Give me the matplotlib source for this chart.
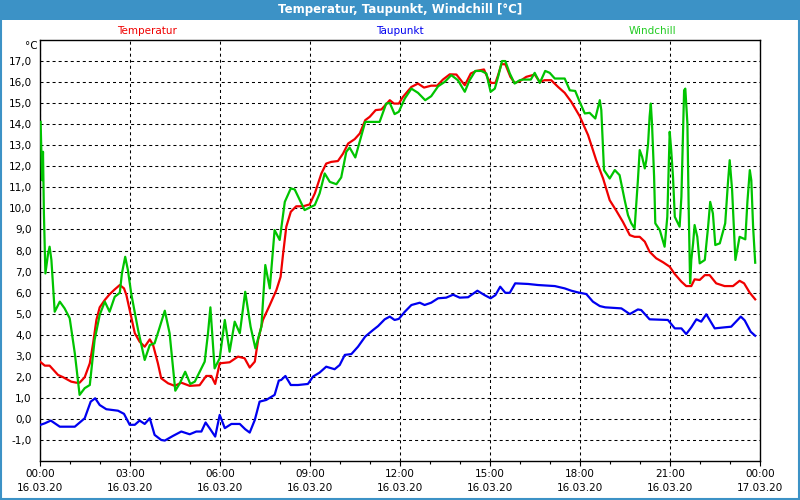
import numpy as np
import matplotlib.pyplot as plt
from matplotlib.patches import Rectangle
from matplotlib.ticker import MultipleLocator, FixedLocator

# hours since 16.03.20 00:00
t_temp = [0.0, 0.16, 0.32, 0.6, 0.77, 1.04, 1.21, 1.32, 1.49, 1.66, 1.77, 1.88, 1.99,
          2.16, 2.32, 2.49, 2.66, 2.8, 2.88, 2.99, 3.16, 3.32, 3.49, 3.66, 3.77, 3.93,
          4.04, 4.27, 4.49, 4.71, 4.99, 5.32, 5.54, 5.71, 5.84, 5.99, 6.32, 6.6, 6.82,
          6.99, 7.16, 7.27, 7.43, 7.66, 7.88, 8.02, 8.1, 8.21, 8.36, 8.54, 8.77, 8.99,
          9.16, 9.38, 9.54, 9.71, 9.93, 10.1, 10.27, 10.49, 10.66, 10.84, 10.99, 11.19,
          11.38, 11.66, 11.8, 11.96, 12.1, 12.38, 12.6, 12.8, 13.04, 13.24, 13.43, 13.66,
          13.88, 14.16, 14.36, 14.54, 14.8, 14.93, 15.04, 15.18, 15.27, 15.38, 15.51,
          15.68, 15.82, 16.0, 16.21, 16.49, 16.66, 16.82, 17.04, 17.27, 17.49, 17.71,
          17.99, 18.27, 18.54, 18.77, 18.99, 19.21, 19.43, 19.66, 19.82, 19.99, 20.16,
          20.32, 20.54, 20.77, 20.99, 21.16, 21.38, 21.54, 21.71, 21.82, 21.99, 22.16,
          22.32, 22.54, 22.82, 23.1, 23.32, 23.47, 23.66, 23.84]
temperatur = [2.72, 2.53, 2.53, 2.09, 1.98, 1.77, 1.72, 1.72, 1.98, 2.64, 3.59, 4.7, 5.3,
              5.65, 5.92, 6.15, 6.36, 6.2, 5.88, 5.17, 4.07, 3.67, 3.43, 3.78, 3.51, 2.64,
              1.93, 1.69, 1.57, 1.72, 1.57, 1.6, 2.04, 2.04, 1.66, 2.64, 2.69, 2.96, 2.88,
              2.44, 2.72, 3.75, 4.7, 5.41, 6.12, 6.75, 7.8, 9.13, 9.84, 10.1, 10.1, 10.19,
              10.71, 11.66, 12.13, 12.21, 12.25, 12.6, 13.08, 13.29, 13.56, 14.19, 14.35, 14.67,
              14.7, 15.14, 14.98, 14.98, 15.3, 15.77, 15.93, 15.74, 15.83, 15.83, 16.12, 16.37,
              16.36, 15.85, 16.41, 16.53, 16.6, 16.17, 15.96, 15.96, 16.33, 16.85, 16.85,
              16.25, 15.96, 16.05, 16.25, 16.36, 16.01, 16.09, 16.09, 15.77, 15.49, 15.06,
              14.38, 13.48, 12.29, 11.42, 10.39, 9.89, 9.36, 8.73, 8.65, 8.65, 8.42,
              7.94, 7.63, 7.44, 7.23, 6.88, 6.52, 6.31, 6.31, 6.63, 6.6, 6.83,
              6.83, 6.44, 6.31, 6.31, 6.56, 6.44, 5.99, 5.68]

t_tau = [0.02, 0.16, 0.36, 0.66, 1.16, 1.49, 1.69, 1.84, 1.99, 2.21, 2.6, 2.8, 2.99, 3.16,
         3.32, 3.49, 3.66, 3.82, 4.04, 4.16, 4.43, 4.71, 4.99, 5.21, 5.38, 5.52, 5.69, 5.84,
         5.99, 6.16, 6.38, 6.66, 6.84, 6.99, 7.16, 7.32, 7.54, 7.82, 7.96, 8.04, 8.18, 8.36,
         8.6, 8.93, 9.1, 9.32, 9.54, 9.82, 9.99, 10.16, 10.38, 10.6, 10.84, 11.1, 11.27,
         11.49, 11.66, 11.82, 11.96, 12.16, 12.38, 12.66, 12.82, 13.04, 13.27, 13.54, 13.77,
         13.99, 14.27, 14.58, 14.82, 15.02, 15.18, 15.34, 15.51, 15.66, 15.84, 16.27, 16.6,
         17.16, 17.49, 17.71, 17.93, 18.21, 18.43, 18.66, 18.84, 19.38, 19.66, 19.93, 20.04,
         20.32, 20.93, 21.16, 21.38, 21.54, 21.71, 21.88, 22.04, 22.21, 22.49, 22.82, 23.04,
         23.36, 23.49, 23.69, 23.84]
taupunkt = [-0.28, -0.21, -0.08, -0.37, -0.37, 0.03, 0.82, 0.98, 0.66, 0.46, 0.39, 0.24, -0.28, -0.28,
            -0.08, -0.24, 0.03, -0.76, -1.0, -1.03, -0.81, -0.6, -0.73, -0.6, -0.6, -0.17, -0.52, -0.84,
            0.19, -0.44, -0.24, -0.24, -0.49, -0.65, -0.05, 0.82, 0.9, 1.14, 1.82, 1.85, 2.04, 1.61,
            1.61, 1.66, 2.01, 2.2, 2.48, 2.36, 2.56, 3.04, 3.08, 3.43, 3.91, 4.22, 4.41,
            4.73, 4.86, 4.7, 4.75, 5.09, 5.41, 5.52, 5.41, 5.52, 5.73, 5.76, 5.9,
            5.76, 5.78, 6.09, 5.88, 5.73, 5.88, 6.28, 5.99, 5.99, 6.44, 6.41, 6.36,
            6.31, 6.2, 6.09, 6.01, 5.93, 5.57, 5.36, 5.3, 5.25, 4.98, 5.2, 5.17,
            4.73, 4.7, 4.3, 4.3, 4.03, 4.35, 4.73, 4.62, 4.97, 4.3, 4.35, 4.38,
            4.86, 4.68, 4.14, 3.95]

t_wind = [0.02, 0.07, 0.1, 0.13, 0.18, 0.27, 0.32, 0.38, 0.49, 0.66, 0.82, 0.99, 1.16, 1.32,
          1.49, 1.66, 1.82, 1.99, 2.16, 2.32, 2.49, 2.66, 2.73, 2.84, 2.93, 3.04, 3.27, 3.49,
          3.66, 3.82, 3.96, 4.16, 4.32, 4.51, 4.66, 4.84, 5.01, 5.16, 5.49, 5.6, 5.68, 5.82,
          5.99, 6.16, 6.32, 6.49, 6.66, 6.84, 7.02, 7.18, 7.38, 7.51, 7.66, 7.82, 7.99, 8.16,
          8.36, 8.49, 8.82, 9.16, 9.32, 9.49, 9.66, 9.88, 10.04, 10.21, 10.32, 10.51, 10.84,
          11.32, 11.54, 11.66, 11.82, 11.96, 12.16, 12.38, 12.6, 12.84, 13.04, 13.27, 13.49,
          13.71, 13.93, 14.16, 14.32, 14.51, 14.71, 14.88, 15.02, 15.16, 15.27, 15.4, 15.51,
          15.66, 15.82, 15.99, 16.1, 16.36, 16.49, 16.66, 16.84, 16.99, 17.16, 17.49, 17.66,
          17.84, 17.99, 18.16, 18.32, 18.51, 18.66, 18.71, 18.8, 18.99, 19.16, 19.32, 19.49,
          19.6, 19.71, 19.82, 19.93, 19.99, 20.07, 20.16, 20.21, 20.27, 20.32, 20.36, 20.4,
          20.47, 20.51, 20.66, 20.82, 20.91, 20.99, 21.04, 21.1, 21.16, 21.32, 21.38, 21.47,
          21.51, 21.58, 21.62, 21.67, 21.71, 21.77, 21.82, 21.91, 21.99, 22.16, 22.27, 22.34,
          22.43, 22.51, 22.66, 22.84, 22.93, 22.99, 23.07, 23.18, 23.32, 23.51, 23.58, 23.66,
          23.71, 23.77, 23.84]
windchill = [14.11, 11.34, 12.69, 9.76, 6.91, 7.86, 8.18, 7.55, 5.09, 5.57, 5.25, 4.78, 3.12, 1.14,
             1.46, 1.61, 3.75, 4.94, 5.57, 5.09, 5.8, 5.99, 6.91, 7.7, 7.07, 5.96, 4.22, 2.8,
             3.51, 3.59, 4.22, 5.14, 4.07, 1.34, 1.69, 2.24, 1.66, 1.77, 2.72, 4.07, 5.3, 2.4,
             2.88, 4.7, 3.19, 4.62, 4.07, 6.04, 4.38, 3.35, 4.38, 7.31, 6.2, 8.97, 8.5, 10.31,
             10.95, 10.9, 9.92, 10.16, 10.71, 11.66, 11.26, 11.15, 11.47, 12.69, 12.89, 12.42, 14.11,
             14.11, 14.98, 15.01, 14.48, 14.59, 15.22, 15.69, 15.49, 15.14, 15.33, 15.8, 16.01,
             16.33, 16.09, 15.54, 16.09, 16.53, 16.53, 16.41, 15.54, 15.69, 16.25, 17.0, 17.0,
             16.41, 15.93, 16.09, 16.12, 16.12, 16.44, 15.96, 16.53, 16.44, 16.17, 16.17, 15.61,
             15.58, 15.06, 14.51, 14.54, 14.27, 15.14, 14.67, 11.82, 11.42, 11.82, 11.58, 10.39,
             9.68, 9.29, 9.05, 11.34, 12.77, 12.45, 11.9, 12.29, 13.08, 14.35, 14.98, 14.03,
             11.5, 9.29, 8.97, 8.18, 9.6, 13.64, 12.77, 11.5, 9.6, 9.13, 10.55, 15.61,
             15.69, 14.03, 10.24, 6.44, 7.55, 8.34, 9.21, 8.65, 7.39, 7.55, 9.13, 10.31,
             9.76, 8.26, 8.34, 9.29, 11.19, 12.29, 10.87, 7.55, 8.65, 8.53, 10.31, 11.82,
             11.34, 9.13, 7.42]

xtick_labels = ['00:00\n16.03.20', '03:00\n16.03.20', '06:00\n16.03.20', '09:00\n16.03.20',
                '12:00\n16.03.20', '15:00\n16.03.20', '18:00\n16.03.20', '21:00\n16.03.20',
                '00:00\n17.03.20']

frame_blue = '#3c92c6'
red = '#f00000'
blue = '#0000f0'
green = '#00c400'

plt.rcParams['font.family'] = ['DejaVu Sans']
fig = plt.figure(figsize=(8, 5), dpi=100, facecolor='white')
ax = fig.add_axes([0.05, 0.078, 0.90, 0.842])

ax.plot(t_temp, temperatur, color=red, lw=1.6, zorder=3)
ax.plot(t_tau, taupunkt, color=blue, lw=1.6, zorder=3)
ax.plot(t_wind, windchill, color=green, lw=1.6, zorder=4)

ax.set_xlim(0, 24)
ax.set_ylim(-2, 18)
ax.set_xticks(np.arange(0, 25, 3))
ax.xaxis.set_minor_locator(MultipleLocator(1))
ax.set_xticklabels(xtick_labels, fontsize=7.5, linespacing=1.55)
yt = np.arange(-1, 18, 1)
ax.yaxis.set_major_locator(FixedLocator(yt))
ax.set_yticklabels([f'{v:.1f}'.replace('.', ',') for v in yt], fontsize=7.5)
ax.tick_params(axis='x', which='major', length=3.5, width=0.8, direction='out', pad=2)
ax.tick_params(axis='x', which='minor', length=2.5, width=0.8, direction='out')
ax.tick_params(axis='y', length=0, pad=6)

ax.grid(True, which='major', color='black', lw=0.75, linestyle=(0, (2.9, 2.9)))
for s in ax.spines.values():
    s.set_linewidth(1.0)
    s.set_color('black')

# title bar and frame
fig.patches.append(Rectangle((0, 1 - 20 / 500), 1, 20 / 500, transform=fig.transFigure,
                             facecolor=frame_blue, edgecolor='none', zorder=0))
fig.patches.append(Rectangle((0.001, 0.002), 0.998, 0.996, transform=fig.transFigure,
                             facecolor='none', edgecolor=frame_blue, lw=1.5, zorder=1))
fig.text(0.5, 1 - 10 / 500, 'Temperatur, Taupunkt, Windchill [°C]', color='white',
         fontsize=8.5, fontweight='bold', ha='center', va='center')

fig.text(147 / 800, 1 - 31 / 500, 'Temperatur', color=red, fontsize=7.5, ha='center', va='center')
fig.text(400 / 800, 1 - 31 / 500, 'Taupunkt', color=blue, fontsize=7.5, ha='center', va='center')
fig.text(652 / 800, 1 - 31 / 500, 'Windchill', color='#22cc22', fontsize=7.5, ha='center', va='center')
fig.text(31 / 800, 1 - 46 / 500, '°C', color='black', fontsize=7.5, ha='center', va='center')

fig.savefig('out.png', dpi=100)
